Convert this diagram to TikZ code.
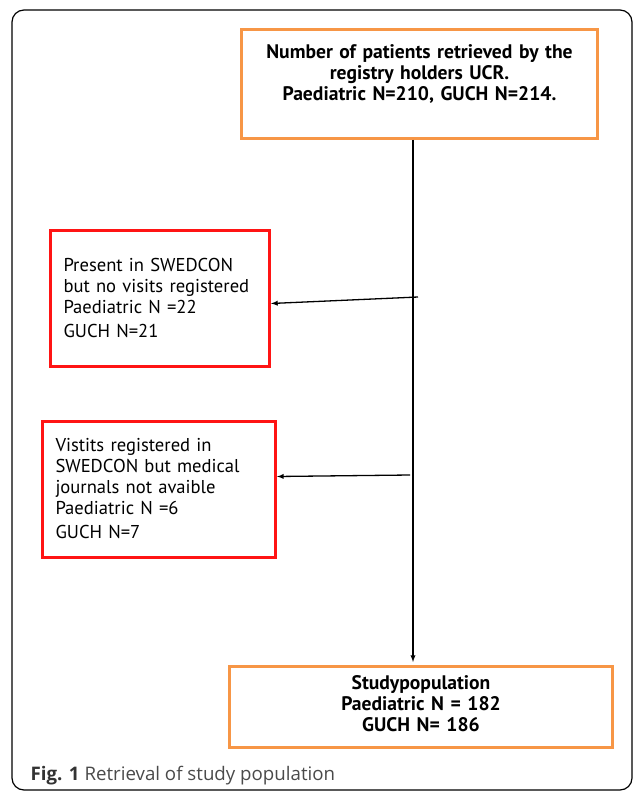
\documentclass[tikz,border=0pt]{standalone}
\usepackage{fontspec}
\setmainfont{PT Sans}
\newfontfamily\capfont{Open Sans}
\usetikzlibrary{arrows}
\definecolor{boxorange}{HTML}{F79646}
\definecolor{boxred}{HTML}{FF1414}
\definecolor{capgray}{HTML}{4A4A4A}

\begin{document}
\begin{tikzpicture}[->,>=latex,x=1pt,y=-1pt,line width=1.3pt]
    \tikzstyle{every node}=[inner sep=0pt,font=\fontsize{18.6}{21}\selectfont]
    \tikzstyle{main box}=[draw=boxorange,line width=3pt,align=center,anchor=north west,font=\fontsize{19.6}{21}\selectfont\bfseries]
    \tikzstyle{excl box}=[draw=boxred,line width=3pt,align=left,anchor=north west,inner xsep=13pt]
    \useasboundingbox (0,0) rectangle (633,791);
    \draw[-,line width=1.2pt,rounded corners=12pt] (12,10) rectangle (632,790);

    \node[main box, text width=356pt, text height=29pt, text depth=80pt] (UCR) at (240,28)
        {Number of patients retrieved by the\\ registry holders UCR.\\ Paediatric N=210, GUCH N=214.};
    \node[excl box, text width=193pt, text height=41pt, text depth=95pt] (NoVisit) at (49,229)
        {Present in SWEDCON\\ but no visits registered\\ Paediatric N =22\\[3pt] GUCH N=21};
    \node[excl box, text width=207pt, text height=30pt, text depth=106pt] (NoJournal) at (41,420)
        {Vistits registered in\\ SWEDCON but medical\\ journals not avaible\\ Paediatric N =6\\[3pt] GUCH N=7};
    \node[main box, text width=383pt, text height=23pt, text depth=58pt] (Study) at (228,665)
        {Studypopulation\\ Paediatric N = 182\\ GUCH N= 186};

    \coordinate (spine) at (413,0);
    \coordinate (b1) at (418,297);
    \coordinate (b2) at (410,475);
    \path
    (UCR.south -| spine) edge [shorten >=3pt] (Study.north -| spine)
    (b1) edge ([yshift=-5pt]NoVisit.east)
    (b2) edge ([yshift=13pt]NoJournal.east);

    \node[anchor=base west, font=\capfont\fontsize{18.7}{20}\selectfont, text=capgray] (cap) at (30,780)
        {\textbf{\color{black!80}Fig. 1} Retrieval of study population};
\end{tikzpicture}
\end{document}
